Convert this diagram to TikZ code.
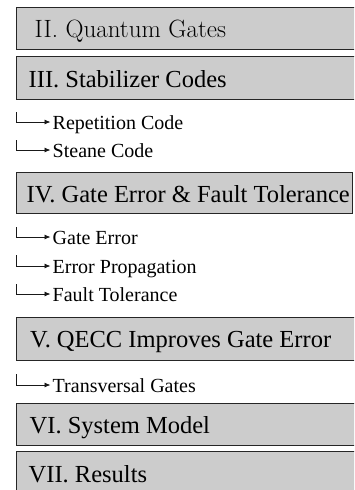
\documentclass[tikz,border=0pt]{standalone}
\usepackage{fontspec}
\newfontfamily\lmfont{Latin Modern Roman}
\setmainfont{Liberation Serif}
\usetikzlibrary{arrows.meta}
\tikzset{
  secbox/.style={draw=black!85, line width=0.9pt, fill=black!20, rectangle, inner sep=0pt, anchor=north west},
  sectext/.style={inner sep=0pt, anchor=base west, font=\fontsize{24.5}{28}\selectfont},
  subtext/.style={inner sep=0pt, anchor=base west, font=\fontsize{20}{24}\selectfont},
  subarrow/.style={draw=black!90, line width=0.8pt, -{Latex[length=6pt,width=5pt]}}
}
\begin{document}
\begin{tikzpicture}[x=1pt,y=-1pt]
\useasboundingbox (0,0) rectangle (354,490);
\clip (0,0) rectangle (354,490);
% section boxes
\node[secbox, minimum width=400pt, minimum height=42pt] (b2) at (16,7) {};
\node[secbox, minimum width=400pt, minimum height=43pt] (b3) at (16,56) {};
\node[secbox, minimum width=336pt, minimum height=41pt] (b4) at (16,172) {};
\node[secbox, minimum width=400pt, minimum height=43pt] (b5) at (16,317) {};
\node[secbox, minimum width=400pt, minimum height=42pt] (b6) at (16,403) {};
\node[secbox, minimum width=400pt, minimum height=42pt] (b7) at (16,451) {};
% section titles
\node[sectext, font=\lmfont\fontsize{25}{30}\selectfont, text=black] (t2) at (34.5,37) {II. Quantum Gates};
\node[sectext] (t3) at (28.5,87) {III. Stabilizer Codes};
\node[sectext] (t4) at (26.5,202) {IV. Gate Error \& Fault Tolerance};
\node[sectext] (t5) at (30,347) {V. QECC Improves Gate Error};
\node[sectext] (t6) at (29.5,433) {VI. System Model};
\node[sectext] (t7) at (28.5,482) {VII. Results};
% sub items
\node[subtext] (rep) at (52.5,129) {Repetition Code};
\node[subtext] (ste) at (52.5,157) {Steane Code};
\node[subtext] (ge) at (52.5,244) {Gate Error};
\node[subtext] (ep) at (52.5,273) {Error Propagation};
\node[subtext] (ft) at (52.5,301) {Fault Tolerance};
\node[subtext] (tg) at (52.5,392) {Transversal Gates};
\coordinate (crep) at (16.5,112);
\coordinate (cste) at (16.5,140);
\coordinate (cge) at (16.5,227);
\coordinate (cep) at (16.5,255);
\coordinate (cft) at (16.5,284);
\coordinate (ctg) at (16.5,374);
\draw[subarrow] (crep) |- ([xshift=-2pt,yshift=7pt]rep.base west);
\draw[subarrow] (cste) |- ([xshift=-2pt,yshift=7pt]ste.base west);
\draw[subarrow] (cge) |- ([xshift=-2pt,yshift=7pt]ge.base west);
\draw[subarrow] (cep) |- ([xshift=-2pt,yshift=7pt]ep.base west);
\draw[subarrow] (cft) |- ([xshift=-2pt,yshift=7pt]ft.base west);
\draw[subarrow] (ctg) |- ([xshift=-2pt,yshift=7pt]tg.base west);
\end{tikzpicture}
\end{document}
